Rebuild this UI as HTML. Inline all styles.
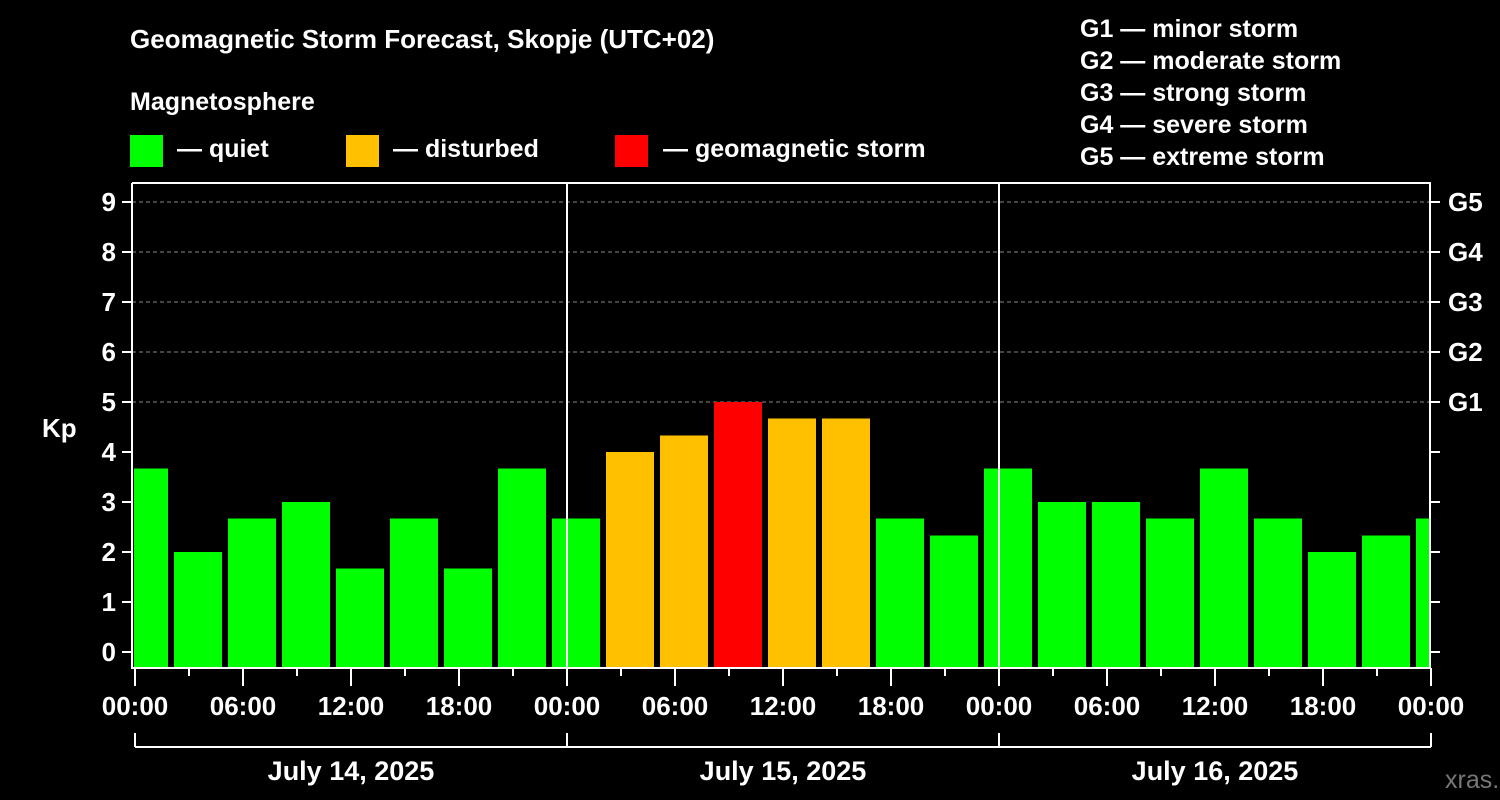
<!DOCTYPE html>
<html><head><meta charset="utf-8"><style>
body{margin:0;background:#000;}
svg{display:block;font-family:"Liberation Sans",Arial,sans-serif;font-weight:bold;}
</style></head><body>
<svg id="c" width="1500" height="800">
<rect width="1500" height="800" fill="#000"/>
<text x="130" y="48" fill="#fff" font-size="26">Geomagnetic Storm Forecast, Skopje (UTC+02)</text>
<text x="130" y="110" fill="#fff" font-size="25">Magnetosphere</text>
<rect x="130" y="135" width="33" height="32" fill="#00ff00"/>
<text x="177" y="157" fill="#fff" font-size="25">— quiet</text>
<rect x="346" y="135" width="33" height="32" fill="#ffc000"/>
<text x="393" y="157" fill="#fff" font-size="25">— disturbed</text>
<rect x="615" y="135" width="33" height="32" fill="#ff0000"/>
<text x="663" y="157" fill="#fff" font-size="25">— geomagnetic storm</text>
<g fill="#fff" font-size="25">
<text x="1080" y="37">G1 — minor storm</text>
<text x="1080" y="69">G2 — moderate storm</text>
<text x="1080" y="101">G3 — strong storm</text>
<text x="1080" y="133">G4 — severe storm</text>
<text x="1080" y="165">G5 — extreme storm</text>
</g>
<text x="42" y="437" fill="#fff" font-size="26">Kp</text>
<text x="1445" y="788" fill="#777" font-size="25" font-weight="normal">xras.ru</text>
<g id="grid"></g><g id="bars"></g><g id="axes"></g>
</svg>
<script>
const kpValues=[3.67,2,2.67,3,1.67,2.67,1.67,3.67,2.67,4,4.33,5,4.67,4.67,2.67,2.33,3.67,3,3,2.67,3.67,2.67,2,2.33,2.67];
const yTicks=[0,1,2,3,4,5,6,7,8,9];
const gLabels=["G1","G2","G3","G4","G5"];
const xTickLabels=["00:00","06:00","12:00","18:00","00:00","06:00","12:00","18:00","00:00","06:00","12:00","18:00","00:00"];
const dayLabels=["July 14, 2025","July 15, 2025","July 16, 2025"];
const NS="http://www.w3.org/2000/svg";
const X0=132,X1=1430,Y0=183,Y1=668;
const hx=h=>135+h*18;            // hours -> px
const ky=v=>652-v*50;            // kp -> px
function mk(t,a,p){const e=document.createElementNS(NS,t);for(const k in a)e.setAttribute(k,a[k]);p.appendChild(e);return e;}
const grid=document.getElementById('grid'),bars=document.getElementById('bars'),axes=document.getElementById('axes');
mk('clipPath',{id:'pc'},grid).appendChild(Object.assign(document.createElementNS(NS,'rect'),{}));
document.querySelector('#pc rect').setAttribute('x',X0+2);document.querySelector('#pc rect').setAttribute('y',Y0);
document.querySelector('#pc rect').setAttribute('width',X1-X0-2);document.querySelector('#pc rect').setAttribute('height',Y1-Y0);
for(let v=5;v<=9;v++){const l=mk('line',{x1:X0,x2:X1,y1:ky(v),y2:ky(v),stroke:'#888','stroke-dasharray':'4,3','stroke-width':1},grid);

}
kpValues.forEach((v,i)=>{const c=hx(3*i)+9;
const col=v>=5?'#ff0000':(v>=4?'#ffc000':'#00ff00');
const r=mk('rect',{x:c-24,y:ky(v),width:48,height:Y1-ky(v),fill:col,'clip-path':'url(#pc)'},bars);

});
// axes frame
mk('polyline',{points:`${X0},${Y0} ${X0},${Y1} ${X1},${Y1} ${X1},${Y0} ${X0},${Y0}`,fill:'none',stroke:'#fff','stroke-width':2},axes);
[1,2].forEach(d=>{const l=mk('line',{x1:hx(24*d),x2:hx(24*d),y1:Y0,y2:Y1,stroke:'#fff','stroke-width':2},axes);

});
yTicks.forEach(v=>{mk('line',{x1:X0-10,x2:X0,y1:ky(v),y2:ky(v),stroke:'#fff','stroke-width':2},axes);
mk('line',{x1:X1,x2:X1+10,y1:ky(v),y2:ky(v),stroke:'#fff','stroke-width':2},axes);
const t=mk('text',{x:X0-16,y:ky(v)+9,fill:'#fff','font-size':26,'text-anchor':'end'},axes);t.textContent=v;

});
gLabels.forEach((g,i)=>{const t=mk('text',{x:1448,y:ky(5+i)+9,fill:'#fff','font-size':26},axes);t.textContent=g;

});
for(let h=0;h<=72;h+=3){const maj=h%6===0;
mk('line',{x1:hx(h),x2:hx(h),y1:Y1,y2:Y1+(maj?18:8),stroke:'#fff','stroke-width':2},axes);}
xTickLabels.forEach((s,i)=>{const t=mk('text',{x:hx(6*i),y:715,fill:'#fff','font-size':26,'text-anchor':'middle'},axes);t.textContent=s;

});
mk('line',{x1:135,x2:hx(72),y1:747,y2:747,stroke:'#fff','stroke-width':2},axes);
for(let d=0;d<=3;d++)mk('line',{x1:hx(24*d),x2:hx(24*d),y1:733,y2:747,stroke:'#fff','stroke-width':2},axes);
dayLabels.forEach((s,i)=>{const t=mk('text',{x:hx(24*i+12),y:780,fill:'#fff','font-size':27,'text-anchor':'middle'},axes);t.textContent=s;

});
</script>
</body></html>
